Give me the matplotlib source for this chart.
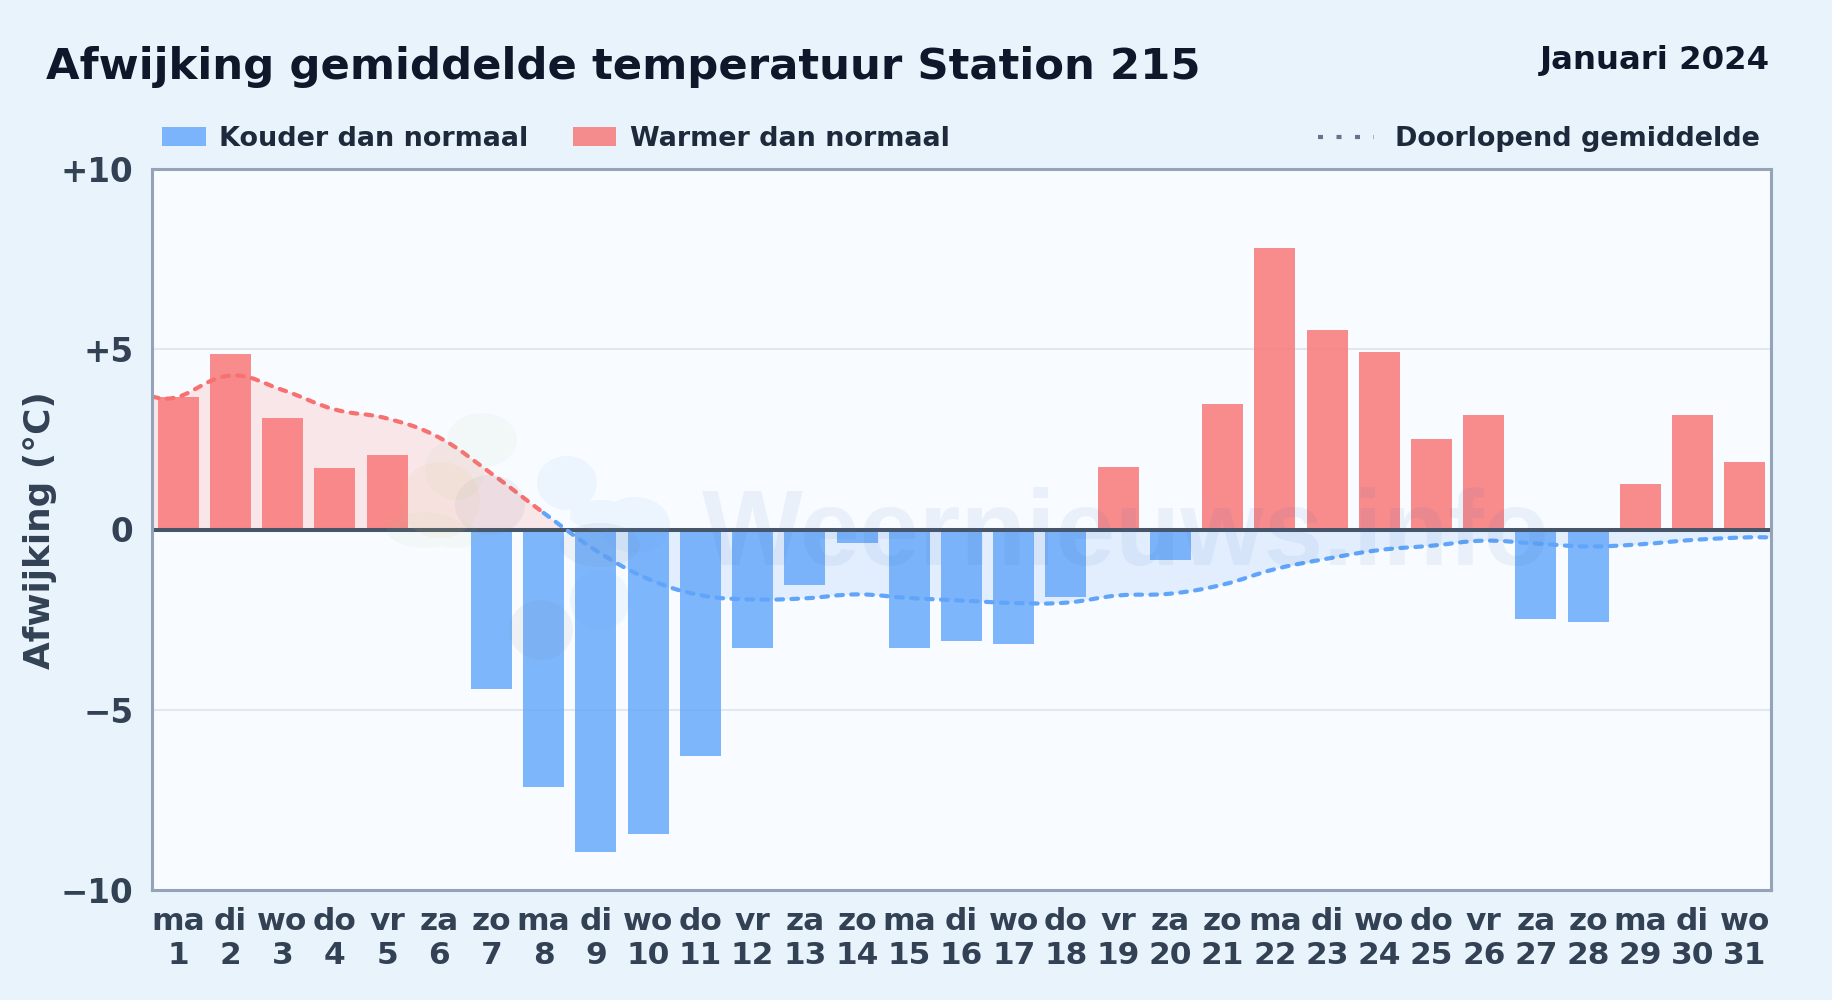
import matplotlib
matplotlib.use('Agg')
import matplotlib.pyplot as plt
from matplotlib.path import Path
from matplotlib.patches import PathPatch, Rectangle
from matplotlib.lines import Line2D
from matplotlib.transforms import Affine2D

weekdays=['ma','di','wo','do','vr','za','zo','ma','di','wo','do','vr','za','zo','ma','di','wo','do','vr','za','zo','ma','di','wo','do','vr','za','zo','ma','di','wo']
days=list(range(1,32))
afwijking=[3.68,4.86,3.08,1.71,2.07,-0.08,-4.42,-7.14,-8.95,-8.46,-6.29,-3.30,-1.54,-0.37,-3.30,-3.10,-3.18,-1.86,1.74,-0.84,3.47,7.81,5.53,4.93,2.50,3.18,-2.48,-2.56,1.25,3.18,1.88]
gemiddelde=[3.68,4.27,3.87,3.33,3.08,2.55,1.55,0.46,-0.58,-1.37,-1.82,-1.94,-1.91,-1.80,-1.90,-1.97,-2.04,-2.03,-1.83,-1.78,-1.53,-1.10,-0.81,-0.57,-0.45,-0.31,-0.39,-0.47,-0.41,-0.29,-0.22]
yticks=[-10,-5,0,5,10]
yticklabels=['\u221210','\u22125','0','+5','+10']

RED='#f87171'
BLUE='#60a5fa'
W,H=1832,1000

def fx(x): return x/W
def fy(y): return 1-y/H

def smooth(xs,ys,t=0.2):
    # bezier door de punten, geen extra datapunten
    verts=[(xs[0],ys[0])]
    codes=[Path.MOVETO]
    n=len(xs)
    for i in range(n-1):
        a=max(i-1,0); b=min(i+2,n-1)
        c1=(xs[i]+t*(xs[i+1]-xs[a]),ys[i]+t*(ys[i+1]-ys[a]))
        c2=(xs[i+1]-t*(xs[b]-xs[i]),ys[i+1]-t*(ys[b]-ys[i]))
        verts+=[c1,c2,(xs[i+1],ys[i+1])]
        codes+=[Path.CURVE4]*3
    return verts,codes

def blob(ell):
    # ellipsen samen als een vorm, overlap wordt niet donkerder
    paths=[]
    for bx,by,rx,ry in ell:
        tr=Affine2D().scale(rx/W,ry/H).translate(fx(bx),fy(by))
        paths.append(Path.unit_circle().transformed(tr))
    return Path.make_compound_path(*paths)

fig=plt.figure(figsize=(W/100,H/100),dpi=100,facecolor='#e8f3fc')
ax=fig.add_axes([fx(152),fy(890),(1771-152)/W,(890-169)/H],facecolor='#f8fbff')
ax.set_xlim(-0.5,30.5)
ax.set_ylim(-10,10)

x=list(range(31))
kleuren=[RED if v>=0 else BLUE for v in afwijking]
ax.bar(x,afwijking,width=0.785,color=kleuren,alpha=0.8,linewidth=0,zorder=3)

ax.axhline(5,color='#e2e8f0',lw=1.5,zorder=1)
ax.axhline(-5,color='#e2e8f0',lw=1.5,zorder=1)

# lijn loopt door tot de randen van de as
lx=[-0.5]+x+[30.5]
ly=[gemiddelde[0]]+gemiddelde+[gemiddelde[-1]]
verts,codes=smooth(lx,ly)

# vlak tussen lijn en nul
vv=verts+[(30.5,0),(-0.5,0),(-0.5,0)]
cc=codes+[Path.LINETO,Path.LINETO,Path.CLOSEPOLY]
boven=PathPatch(Path(vv,cc),facecolor=RED,alpha=0.15,lw=0,zorder=2)
onder=PathPatch(Path(vv,cc),facecolor=BLUE,alpha=0.14,lw=0,zorder=2)
ax.add_patch(boven)
ax.add_patch(onder)
boven.set_clip_path(Rectangle((-0.5,0),31,10,transform=ax.transData))
onder.set_clip_path(Rectangle((-0.5,-10),31,10,transform=ax.transData))

# kleur wisselt bij dag 8 (volgende punt is negatief)
k=1+3*8
lijn1=PathPatch(Path(verts[:k],codes[:k]),fill=False,edgecolor=RED,lw=3,linestyle=(0,(1.6,2.0)),capstyle='round',zorder=5)
lijn2=PathPatch(Path(verts[k-1:],[Path.MOVETO]+codes[k:]),fill=False,edgecolor=BLUE,lw=3,linestyle=(0,(1.6,2.0)),capstyle='round',zorder=5)
ax.add_patch(lijn1)
ax.add_patch(lijn2)

ax.axhline(0,color='#475569',lw=2.9,zorder=4)

# watermerk
groen=[(482,440,35,27),(455,470,30,30),(425,530,38,18),(455,535,25,13)]
oranje=[(440,500,40,38)]
grijs=[(490,505,35,30),(600,545,40,22),(541,630,32,30)]
blauw=[(567,483,30,27),(635,525,35,28),(600,515,30,15),(600,600,30,30)]
for ell,c,a in [(groen,'#86d07a',0.06),(oranje,'#f6b26b',0.08),(grijs,'#64748b',0.07),(blauw,BLUE,0.08)]:
    ax.add_patch(PathPatch(blob(ell),transform=fig.transFigure,facecolor=c,alpha=a,lw=0,zorder=6))
fig.text(fx(702),fy(565),'Weernieuws.info',fontsize=77,fontweight='bold',family='Liberation Sans',color='#2b6cb0',alpha=0.07,ha='left',va='baseline',zorder=6)

ax.set_xticks(x)
ax.set_xticklabels([w+'\n'+str(d) for w,d in zip(weekdays,days)],fontsize=22.5,fontweight='bold',color='#334155',linespacing=1.22)
ax.set_yticks(yticks)
ax.set_yticklabels(yticklabels,fontsize=23.5,fontweight='bold',color='#334155')
ax.tick_params(axis='both',length=0)
ax.tick_params(axis='x',pad=12)
ax.tick_params(axis='y',pad=13.5)
for s in ax.spines.values():
    s.set_color('#94a3b8')
    s.set_linewidth(2.2)
    s.set_zorder(7)

fig.text(fx(40),fy(530),'Afwijking (°C)',rotation=90,fontsize=25.8,fontweight='bold',color='#334155',ha='center',va='center')
fig.text(fx(46),fy(67),'Afwijking gemiddelde temperatuur Station 215',fontsize=31.2,fontweight='bold',color='#0f172a',ha='left',va='center')
fig.text(fx(1770),fy(61),'Januari 2024',fontsize=23.3,fontweight='bold',color='#0f172a',ha='right',va='center')

# legenda
fig.add_artist(Rectangle((fx(162),fy(146)),44/W,19/H,transform=fig.transFigure,facecolor=BLUE,alpha=0.8,lw=0))
fig.text(fx(219),fy(139),'Kouder dan normaal',fontsize=19.45,fontweight='bold',color='#1e293b',ha='left',va='center')
fig.add_artist(Rectangle((fx(573),fy(146)),43/W,19/H,transform=fig.transFigure,facecolor=RED,alpha=0.8,lw=0))
fig.text(fx(630),fy(139),'Warmer dan normaal',fontsize=19.45,fontweight='bold',color='#1e293b',ha='left',va='center')
fig.add_artist(Line2D([fx(1318),fx(1374)],[fy(137),fy(137)],transform=fig.transFigure,color='#64748b',lw=3,linestyle=(0,(1.2,3.24))))
fig.text(fx(1760),fy(139),'Doorlopend gemiddelde',fontsize=19.45,fontweight='bold',color='#1e293b',ha='right',va='center')

fig.savefig('out.png',dpi=100,facecolor=fig.get_facecolor())
